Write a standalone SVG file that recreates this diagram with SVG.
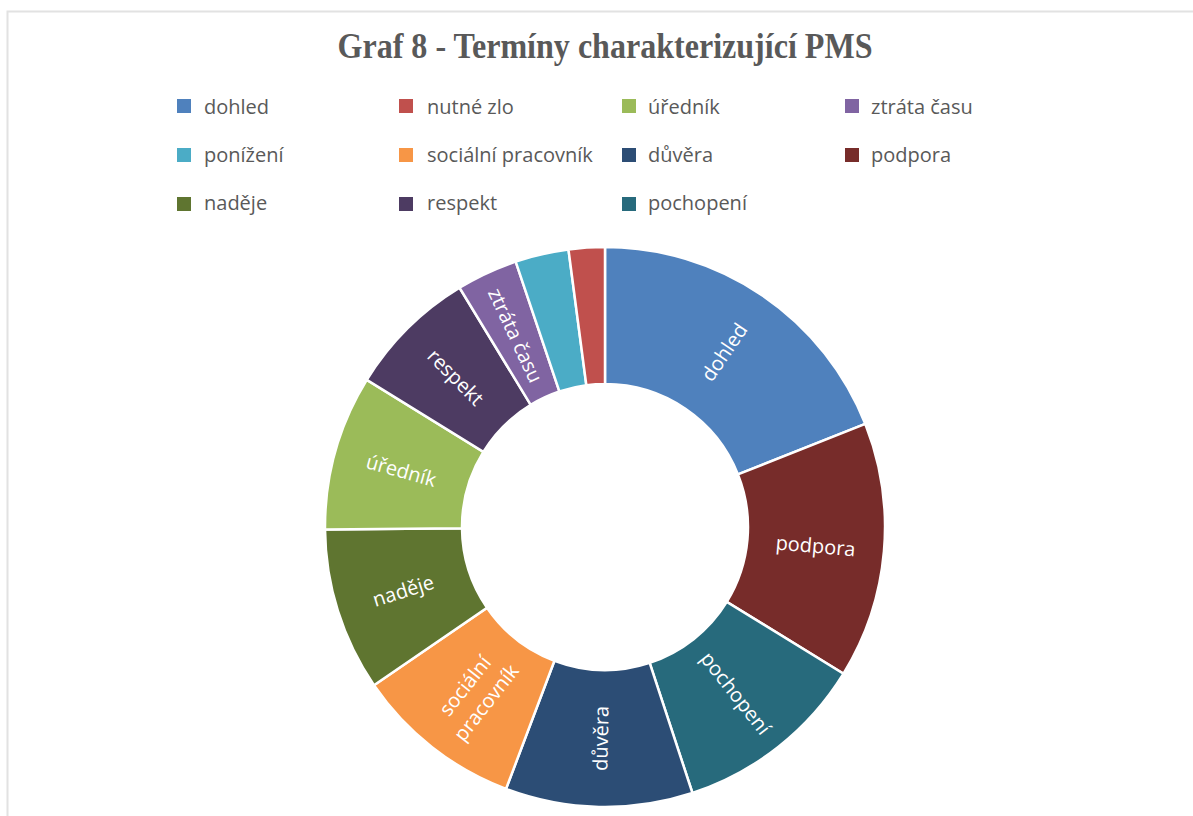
<svg xmlns="http://www.w3.org/2000/svg" width="1193" height="816" viewBox="0 0 1193 816">
<style>
.title{font-family:"Liberation Serif","Times New Roman",serif;font-weight:bold;font-size:36px;fill:#595959}
.leg{font-family:"Open Sans","Noto Sans",sans-serif;font-size:20px;fill:#595959}
.lbl{font-family:"Open Sans","Noto Sans",sans-serif;font-size:20px;fill:#ffffff;text-anchor:middle;dominant-baseline:central}
.seg{stroke:#ffffff;stroke-width:2.5;stroke-linejoin:miter}
</style>
<rect x="0" y="0" width="1193" height="816" fill="#ffffff"/>
<path d="M7.5,816 V11.5 H1193" fill="none" stroke="#e2e2e2" stroke-width="2"/>
<text class="title" x="605" y="58" text-anchor="middle" textLength="535" lengthAdjust="spacingAndGlyphs">Graf 8 - Termíny charakterizující PMS</text>
<g id="legend">
<rect x="177" y="99" width="14" height="14" fill="#4F81BD"/><text class="leg" x="204" y="114">dohled</text>
<rect x="399" y="99" width="14" height="14" fill="#C0504D"/><text class="leg" x="427" y="114">nutné zlo</text>
<rect x="622" y="99" width="14" height="14" fill="#9BBB59"/><text class="leg" x="648" y="114">úředník</text>
<rect x="845" y="99" width="14" height="14" fill="#8064A2"/><text class="leg" x="871" y="114">ztráta času</text>
<rect x="177" y="148" width="14" height="14" fill="#4BACC6"/><text class="leg" x="204" y="162">ponížení</text>
<rect x="399" y="148" width="14" height="14" fill="#F79646"/><text class="leg" x="427" y="162">sociální pracovník</text>
<rect x="622" y="148" width="14" height="14" fill="#2C4D75"/><text class="leg" x="648" y="162">důvěra</text>
<rect x="845" y="148" width="14" height="14" fill="#772C2A"/><text class="leg" x="871" y="162">podpora</text>
<rect x="177" y="197" width="14" height="14" fill="#5F7530"/><text class="leg" x="204" y="210">naděje</text>
<rect x="399" y="197" width="14" height="14" fill="#4D3B62"/><text class="leg" x="427" y="210">respekt</text>
<rect x="622" y="197" width="14" height="14" fill="#276A7C"/><text class="leg" x="648" y="210">pochopení</text>
</g>
<g id="slice-dohled">
<path class="seg" fill="#4F81BD" d="M605,247 A280,280 0 0 1 865.34,423.93 L737.96,474.36 A143,143 0 0 0 605,384 Z"/>
<text class="lbl" transform="translate(723.9,352.0) rotate(-55.8)">dohled</text>
</g>
<g id="slice-podpora">
<path class="seg" fill="#772C2A" d="M865.34,423.93 A280,280 0 0 1 843.48,673.72 L726.79,601.93 A143,143 0 0 0 737.96,474.36 Z"/>
<text class="lbl" transform="translate(815.7,545.4) rotate(5)">podpora</text>
</g>
<g id="slice-pochopeni">
<path class="seg" fill="#276A7C" d="M843.48,673.72 A280,280 0 0 1 692.44,793.0 L649.66,662.85 A143,143 0 0 0 726.79,601.93 Z"/>
<text class="lbl" transform="translate(736.0,693.0) rotate(51.7)">pochopení</text>
</g>
<g id="slice-duvera">
<path class="seg" fill="#2C4D75" d="M692.44,793.0 A280,280 0 0 1 506.02,788.91 L554.45,660.76 A143,143 0 0 0 649.66,662.85 Z"/>
<text class="lbl" transform="translate(600.4,738.4) rotate(-88.75)">důvěra</text>
</g>
<g id="slice-socialni">
<path class="seg" fill="#F79646" d="M506.02,788.91 A280,280 0 0 1 373.97,685.2 L487.01,607.80 A143,143 0 0 0 554.45,660.76 Z"/>
<text class="lbl" transform="translate(474.4,693.3) rotate(-51.8)"><tspan x="0" dy="-13">sociální</tspan><tspan x="0" dy="27">pracovník</tspan></text>
</g>
<g id="slice-nadeje">
<path class="seg" fill="#5F7530" d="M373.97,685.2 A280,280 0 0 1 325.01,529.44 L462.01,528.25 A143,143 0 0 0 487.01,607.80 Z"/>
<text class="lbl" transform="translate(403.2,590.4) rotate(-17.45)">naděje</text>
</g>
<g id="slice-urednik">
<path class="seg" fill="#9BBB59" d="M325.01,529.44 A280,280 0 0 1 366.78,379.86 L483.34,451.85 A143,143 0 0 0 462.01,528.25 Z"/>
<text class="lbl" transform="translate(401.3,470.1) rotate(15.6)">úředník</text>
</g>
<g id="slice-respekt">
<path class="seg" fill="#4D3B62" d="M366.78,379.86 A280,280 0 0 1 459.54,287.74 L530.71,404.81 A143,143 0 0 0 483.34,451.85 Z"/>
<text class="lbl" transform="translate(455.9,376.9) rotate(45.2)">respekt</text>
</g>
<g id="slice-ztrata-casu">
<path class="seg" fill="#8064A2" d="M459.54,287.74 A280,280 0 0 1 515.68,261.62 L559.38,391.46 A143,143 0 0 0 530.71,404.81 Z"/>
<text class="lbl" transform="translate(515.8,335.2) rotate(65)">ztráta času</text>
</g>
<g id="slice-ponizeni">
<path class="seg" fill="#4BACC6" d="M515.68,261.62 A280,280 0 0 1 568.46,249.41 L586.34,385.22 A143,143 0 0 0 559.38,391.46 Z"/>
</g>
<g id="slice-nutne-zlo">
<path class="seg" fill="#C0504D" d="M568.46,249.41 A280,280 0 0 1 605,247 L605,384 A143,143 0 0 0 586.34,385.22 Z"/>
</g>
<g id="connectors"/>
</svg>
